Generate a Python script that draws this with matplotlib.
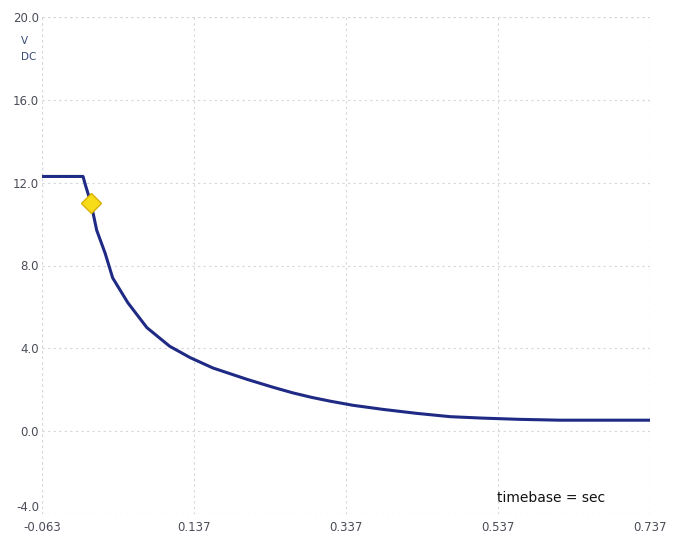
import numpy as np
import matplotlib.pyplot as plt

# decay curve (time in s, voltage in V)
t_vals = [-0.063, -0.009, -0.006, 0.0015, 0.009, 0.020, 0.030, 0.050, 0.075,
          0.105, 0.132, 0.162, 0.207, 0.241, 0.267, 0.292, 0.316, 0.346,
          0.386, 0.430, 0.474, 0.517, 0.566, 0.619, 0.737]
v_vals = [12.3, 12.3, 11.9, 11.0, 9.7, 8.6, 7.4, 6.2, 5.0,
          4.1, 3.55, 3.05, 2.5, 2.12, 1.85, 1.63, 1.45, 1.25,
          1.05, 0.86, 0.7, 0.63, 0.57, 0.53, 0.53]

marker_t = [0.0015]
marker_v = [11.0]

x_ticks = [-0.063, 0.137, 0.337, 0.537, 0.737]
x_labels = ['-0.063', '0.137', '0.337', '0.537', '0.737']
y_ticks = [-4.0, 0.0, 4.0, 8.0, 12.0, 16.0, 20.0]
y_labels = ['-4.0', '0.0', '4.0', '8.0', '12.0', '16.0', '20.0']

W, H = 677, 536
fig = plt.figure(figsize=(W / 100, H / 100), dpi=100)
ax = fig.add_axes([42 / W, (H - 514) / H, (650 - 42) / W, (514 - 17) / H])

ax.plot(t_vals, v_vals, color='#1f2a85', lw=2.2, zorder=3)
ax.plot(marker_t, marker_v, marker='D', ms=10, mfc='#f7dc1a', mec='#d8b000',
        mew=1, ls='none', zorder=4)

ax.set_xlim(x_ticks[0], x_ticks[-1])
ax.set_ylim(y_ticks[0], y_ticks[-1])
ax.set_xticks(x_ticks)
ax.set_xticklabels(x_labels)
ax.set_yticks(y_ticks)
ax.set_yticklabels(y_labels)

grid_kw = dict(color='#d3d7dc', lw=0.8, ls=(0, (2, 3)))
ax.grid(True, **grid_kw)
for s in ax.spines.values():
    s.set_visible(False)
ax.tick_params(length=0, labelsize=8.5, labelcolor='#4a4d58')
ax.tick_params(axis='x', pad=5)
ax.tick_params(axis='y', pad=2)
# bottom y label sits a bit above its line so it clears the x labels
ax.get_yticklabels()[0].set_verticalalignment('bottom')

# boundary dotted lines, like the scope frame
for x in (x_ticks[0], x_ticks[-1]):
    ax.axvline(x, zorder=1, **grid_kw)
for y in (y_ticks[0], y_ticks[-1]):
    ax.axhline(y, zorder=1, **grid_kw)

fig.text(24 / W, 1 - 41 / H, 'V', fontsize=7.5, color='#3a4a78', ha='center', va='center')
fig.text(29 / W, 1 - 57 / H, 'DC', fontsize=7.5, color='#3a4a78', ha='center', va='center')
fig.text(497 / W, 1 - 498 / H, 'timebase = sec', fontsize=10, color='#111111',
         ha='left', va='center')

fig.savefig('out.png', dpi=100)
